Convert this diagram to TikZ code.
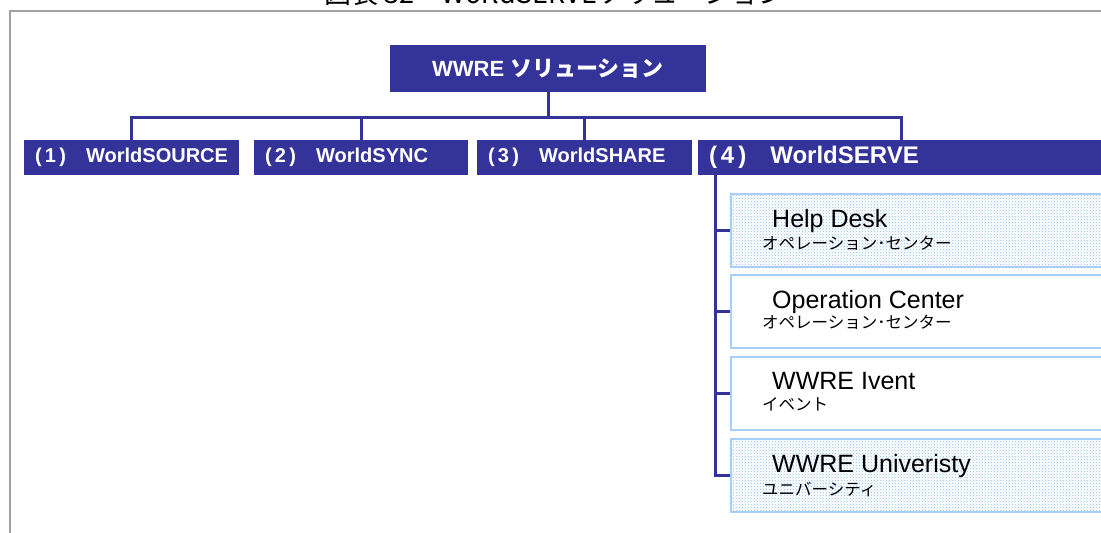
\documentclass[tikz,border=0pt]{standalone}
\usepackage{fontspec}
\setmainfont{Liberation Sans}
\newfontfamily\jpfont{Noto Sans CJK JP}
\usepackage{tikz}
\usetikzlibrary{positioning, patterns}
\definecolor{wwblue}{HTML}{333399}
\definecolor{boxline}{HTML}{A6CFFA}
\definecolor{dotblue}{HTML}{8FBCEB}
\definecolor{framegray}{HTML}{A0A0A0}

\tikzset{
  topbox/.style={fill=wwblue, text=white, inner sep=0pt,
                 minimum width=316pt, minimum height=47pt,
                 font=\bfseries\fontsize{22}{22}\selectfont},
  catbox/.style={fill=wwblue, text=white, inner sep=0pt, inner xsep=11pt,
                 minimum height=35pt, align=left,
                 font=\bfseries\fontsize{20}{20}\selectfont},
  svcbox/.style={draw=boxline, line width=2pt, fill=white,
                 minimum width=374pt, minimum height=73pt},
  dotted box/.style={svcbox, pattern=crosshatch dots, pattern color=dotblue},
  svcname/.style={anchor=base west, inner sep=0pt, font=\fontsize{25}{25}\selectfont},
  svcsub/.style={anchor=base west, inner sep=0pt, font=\jpfont\fontsize{16.5}{17}\selectfont},
  link/.style={draw=wwblue, line width=3pt}
}

\begin{document}
\begin{tikzpicture}[x=1pt, y=-1pt]
  \useasboundingbox (0,0) rectangle (1101,533);

  % frame and cut title
  \draw[framegray, line width=2pt] (10,534) -- (10,11) -- (1102,11);
  \node[anchor=base, inner sep=0pt, font=\jpfont\fontsize{27}{27}\selectfont] (title)
    at (555,3) {図表 32　WorldSERVEソリューション};

  % top
  \node[topbox] (root) at (548,68.5) {WWRE {\jpfont ソリューション}};
  \coordinate (bus) at (548,117);

  % four parts
  \node[catbox, text width=193pt] (source) at (131.5,157.5) {(\,1\,)\quad WorldSOURCE};
  \node[catbox, text width=192pt] (sync)   at (361,157.5)   {(\,2\,)\quad WorldSYNC};
  \node[catbox, text width=193pt] (share)  at (584.5,157.5) {(\,3\,)\quad WorldSHARE};
  \node[catbox, text width=384pt, font=\bfseries\fontsize{24}{24}\selectfont]
    (serve) at (901,157.5) {\raisebox{-5pt}{(\,4\,)\quad WorldSERVE}};

  \draw[link] (root.south) -- (bus);
  \foreach \part in {source, sync, share, serve}
    \draw[link] (\part.north) |- (bus);

  % WorldSERVE services
  \node[dotted box] (desk) at (918,230)   {};
  \node[svcbox]     (ops)  at (918,311.5) {};
  \node[svcbox]     (ivt)  at (918,393)   {};
  \node[dotted box] (univ) at (918,475.5) {};

  \node[svcname] (deskname) at ([xshift=42pt, yshift=-35pt]desk.north west) {Help Desk};
  \node[svcsub]  (desksub)  at ([xshift=32pt, yshift=-57pt]desk.north west) {オペレーション･センター};
  \node[svcname] (opsname)  at ([xshift=42pt, yshift=-34pt]ops.north west)  {Operation Center};
  \node[svcsub]  (opssub)   at ([xshift=32pt, yshift=-54pt]ops.north west)  {オペレーション･センター};
  \node[svcname] (ivtname)  at ([xshift=42pt, yshift=-34pt]ivt.north west)  {WWRE Ivent};
  \node[svcsub]  (ivtsub)   at ([xshift=32pt, yshift=-55pt]ivt.north west)  {イベント};
  \node[svcname] (univname) at ([xshift=42pt, yshift=-34pt]univ.north west) {WWRE Univeristy};
  \node[svcsub]  (univsub)  at ([xshift=32pt, yshift=-57pt]univ.north west) {ユニバーシティ};

  \coordinate (trunk) at ([xshift=18pt]serve.south west);
  \foreach \svc in {desk, ops, ivt, univ}
    \draw[link] (trunk) |- (\svc.west);
\end{tikzpicture}
\end{document}
